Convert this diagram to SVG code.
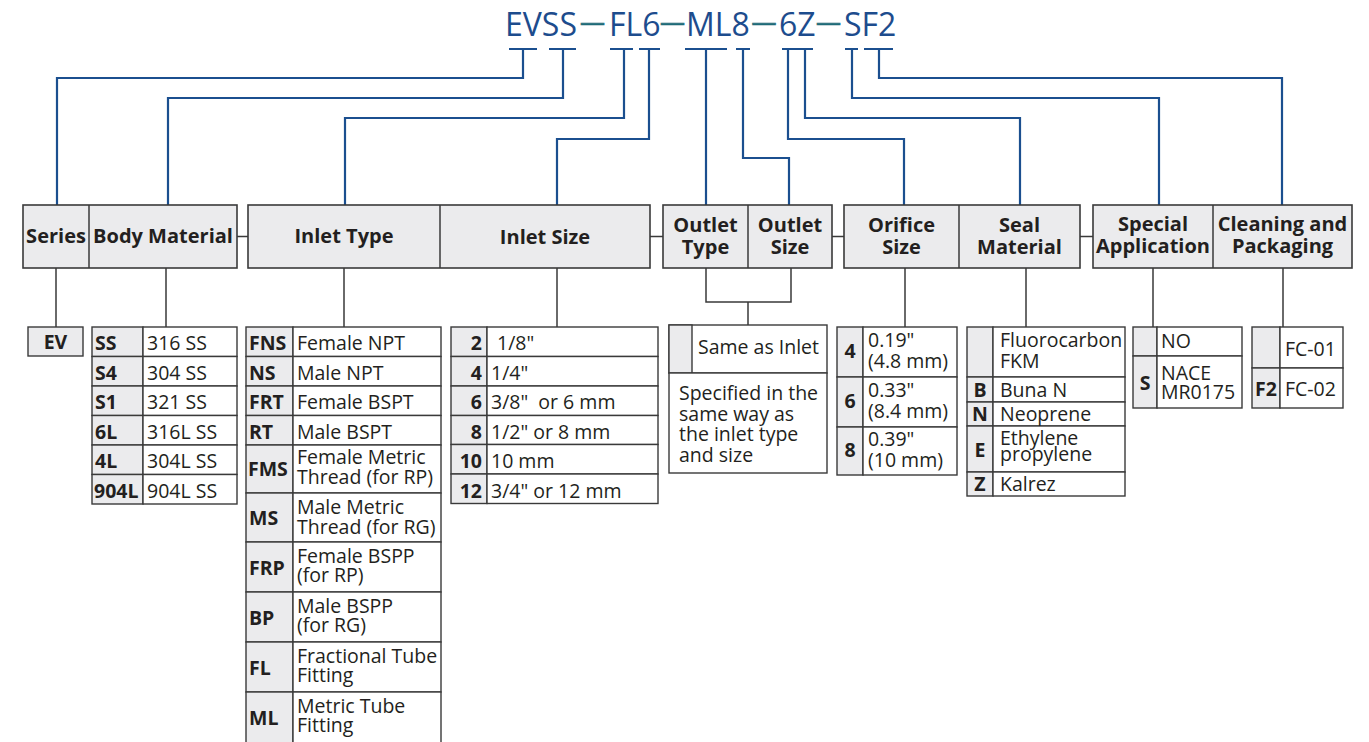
<svg xmlns="http://www.w3.org/2000/svg" width="1369" height="742" viewBox="0 0 1369 742">
<style>
.bg{fill:#fff}
.hb{fill:#ebebed;stroke:#3a3a3a;stroke-width:1.6}
.w{fill:#fff;stroke:#3a3a3a;stroke-width:1.4}
.g{fill:#ebebed;stroke:#3a3a3a;stroke-width:1.4}
.bl{fill:none;stroke:#1b4f8f;stroke-width:2.2}
.gl{fill:none;stroke:#3a3a3a;stroke-width:1.5}
text{font-family:'Open Sans','Noto Sans','DejaVu Sans',sans-serif;fill:#231f20}
.ht{font-size:20px;font-weight:700;text-anchor:middle}
.t{font-size:19.5px}
.c{font-size:19.5px;font-weight:700}
.cm{font-size:19.5px;font-weight:700;text-anchor:middle}
.ce{font-size:19.5px;font-weight:700;text-anchor:end}
.title{font-size:32px;fill:#1d4c8d}
.dash{font-size:25px;fill:#1e6b78;stroke:#1e6b78;stroke-width:0.7}
</style>
<rect class="bg" x="0" y="0" width="1369" height="742"/>

<g id="title">
<text class="title"><tspan x="505" y="36">EVSS</tspan><tspan class="dash" x="580" y="31">—</tspan><tspan x="609" y="36">FL6</tspan><tspan class="dash" x="660" y="31">—</tspan><tspan x="686" y="36">ML8</tspan><tspan class="dash" x="751.5" y="31">—</tspan><tspan x="779" y="36">6Z</tspan><tspan class="dash" x="816" y="31">—</tspan><tspan x="844" y="36">SF2</tspan></text>
</g>

<g id="connectors">
<path class="bl" d="M509 49H537M549 49H576M610 49H633M639 49H660M685 49H727M736 49H750M782 49H813M845 49H858M864 49H893"/>
<path class="bl" d="M523 49V78H57V205"/>
<path class="bl" d="M563 49V98H168V205"/>
<path class="bl" d="M624 49V118H345V205"/>
<path class="bl" d="M649 49V139H557V205"/>
<path class="bl" d="M706 49V205"/>
<path class="bl" d="M743 49V158H789V205"/>
<path class="bl" d="M788 49V139H904V205"/>
<path class="bl" d="M805 49V118H1020V205"/>
<path class="bl" d="M852 49V98H1159V205"/>
<path class="bl" d="M879 49V78H1282V205"/>
<path class="gl" d="M237 236.5H248M650 236.5H663M832 236.5H844M1080 236.5H1093"/>
<path class="gl" d="M56 268V327M166 268V327M344 268V327M557 268V327M706 268V302H791V268M748 302V325M905 268V327M1026 268V327M1153 268V327M1283 268V327"/>
</g>

<g id="hdr-series-body">
<rect class="hb" x="23" y="205" width="214" height="63"/>
<path class="gl" d="M89 205V268"/>
<text class="ht" x="56" y="243">Series</text>
<text class="ht" x="163" y="243">Body Material</text>
</g>
<g id="hdr-inlet">
<rect class="hb" x="248" y="205" width="402" height="63"/>
<path class="gl" d="M440 205V268"/>
<text class="ht" x="344" y="243">Inlet Type</text>
<text class="ht" x="545" y="244">Inlet Size</text>
</g>
<g id="hdr-outlet">
<rect class="hb" x="663" y="205" width="169" height="63"/>
<path class="gl" d="M748 205V268"/>
<text class="ht"><tspan x="705.5" y="232">Outlet</tspan><tspan x="705.5" y="254">Type</tspan></text>
<text class="ht"><tspan x="790" y="232">Outlet</tspan><tspan x="790" y="254">Size</tspan></text>
</g>
<g id="hdr-orifice-seal">
<rect class="hb" x="844" y="205" width="236" height="63"/>
<path class="gl" d="M959 205V268"/>
<text class="ht"><tspan x="901.5" y="232">Orifice</tspan><tspan x="901.5" y="254">Size</tspan></text>
<text class="ht"><tspan x="1019.5" y="232">Seal</tspan><tspan x="1019.5" y="254">Material</tspan></text>
</g>
<g id="hdr-special-cleaning">
<rect class="hb" x="1093" y="205" width="259" height="63"/>
<path class="gl" d="M1213 205V268"/>
<text class="ht"><tspan x="1153" y="231">Special</tspan><tspan x="1153" y="253">Application</tspan></text>
<text class="ht"><tspan x="1282.5" y="231">Cleaning and</tspan><tspan x="1282.5" y="253">Packaging</tspan></text>
</g>

<g id="tbl-series">
<rect class="g" x="28" y="327" width="55" height="29"/>
<text class="cm" x="55.5" y="349">EV</text>
</g>

<g id="tbl-body">
<rect class="g" x="92" y="327" width="51" height="29.5"/><rect class="w" x="143" y="327" width="94" height="29.5"/>
<rect class="g" x="92" y="356.5" width="51" height="29.5"/><rect class="w" x="143" y="356.5" width="94" height="29.5"/>
<rect class="g" x="92" y="386" width="51" height="29.5"/><rect class="w" x="143" y="386" width="94" height="29.5"/>
<rect class="g" x="92" y="415.5" width="51" height="29.5"/><rect class="w" x="143" y="415.5" width="94" height="29.5"/>
<rect class="g" x="92" y="445" width="51" height="29.5"/><rect class="w" x="143" y="445" width="94" height="29.5"/>
<rect class="g" x="92" y="474.5" width="51" height="29.5"/><rect class="w" x="143" y="474.5" width="94" height="29.5"/>
<text class="c" x="95" y="350">SS</text><text class="t" x="147" y="350">316 SS</text>
<text class="c" x="95" y="379.5">S4</text><text class="t" x="147" y="379.5">304 SS</text>
<text class="c" x="95" y="409">S1</text><text class="t" x="147" y="409">321 SS</text>
<text class="c" x="95" y="438.5">6L</text><text class="t" x="147" y="438.5">316L SS</text>
<text class="c" x="95" y="468">4L</text><text class="t" x="147" y="468">304L SS</text>
<text class="c" x="94" y="497.5">904L</text><text class="t" x="147" y="497.5">904L SS</text>
</g>

<g id="tbl-inlet-type">
<rect class="g" x="246" y="327" width="47" height="29.5"/><rect class="w" x="293" y="327" width="148" height="29.5"/>
<rect class="g" x="246" y="356.5" width="47" height="29.5"/><rect class="w" x="293" y="356.5" width="148" height="29.5"/>
<rect class="g" x="246" y="386" width="47" height="29.5"/><rect class="w" x="293" y="386" width="148" height="29.5"/>
<rect class="g" x="246" y="415.5" width="47" height="29.5"/><rect class="w" x="293" y="415.5" width="148" height="29.5"/>
<rect class="g" x="246" y="445" width="47" height="48"/><rect class="w" x="293" y="445" width="148" height="48"/>
<rect class="g" x="246" y="493" width="47" height="49"/><rect class="w" x="293" y="493" width="148" height="49"/>
<rect class="g" x="246" y="542" width="47" height="50"/><rect class="w" x="293" y="542" width="148" height="50"/>
<rect class="g" x="246" y="592" width="47" height="50"/><rect class="w" x="293" y="592" width="148" height="50"/>
<rect class="g" x="246" y="642" width="47" height="50"/><rect class="w" x="293" y="642" width="148" height="50"/>
<rect class="g" x="246" y="692" width="47" height="60"/><rect class="w" x="293" y="692" width="148" height="60"/>
<text class="c" x="249" y="350">FNS</text><text class="t" x="297" y="350">Female NPT</text>
<text class="c" x="249" y="379.5">NS</text><text class="t" x="297" y="379.5">Male NPT</text>
<text class="c" x="249" y="409">FRT</text><text class="t" x="297" y="409">Female BSPT</text>
<text class="c" x="249" y="438.5">RT</text><text class="t" x="297" y="438.5">Male BSPT</text>
<text class="c" x="248" y="476">FMS</text><text class="t"><tspan x="297" y="464">Female Metric</tspan><tspan x="297" y="484">Thread (for RP)</tspan></text>
<text class="c" x="249" y="525">MS</text><text class="t"><tspan x="297" y="513.5">Male Metric</tspan><tspan x="297" y="533.5">Thread (for RG)</tspan></text>
<text class="c" x="249" y="574.5">FRP</text><text class="t"><tspan x="297" y="562.5">Female BSPP</tspan><tspan x="297" y="582">(for RP)</tspan></text>
<text class="c" x="249" y="624.5">BP</text><text class="t"><tspan x="297" y="612.5">Male BSPP</tspan><tspan x="297" y="632">(for RG)</tspan></text>
<text class="c" x="249" y="674.5">FL</text><text class="t"><tspan x="297" y="662.5">Fractional Tube</tspan><tspan x="297" y="682">Fitting</tspan></text>
<text class="c" x="249" y="724.5">ML</text><text class="t"><tspan x="297" y="712.5">Metric Tube</tspan><tspan x="297" y="732">Fitting</tspan></text>
</g>

<g id="tbl-inlet-size">
<rect class="g" x="451" y="327" width="36" height="29.5"/><rect class="w" x="487" y="327" width="171" height="29.5"/>
<rect class="g" x="451" y="356.5" width="36" height="29.5"/><rect class="w" x="487" y="356.5" width="171" height="29.5"/>
<rect class="g" x="451" y="386" width="36" height="29.5"/><rect class="w" x="487" y="386" width="171" height="29.5"/>
<rect class="g" x="451" y="415.5" width="36" height="29"/><rect class="w" x="487" y="415.5" width="171" height="29"/>
<rect class="g" x="451" y="444.5" width="36" height="29.5"/><rect class="w" x="487" y="444.5" width="171" height="29.5"/>
<rect class="g" x="451" y="474" width="36" height="29.5"/><rect class="w" x="487" y="474" width="171" height="29.5"/>
<text class="ce" x="482" y="350">2</text><text class="t" x="497" y="350">1/8"</text>
<text class="ce" x="482" y="379.5">4</text><text class="t" x="491" y="379.5">1/4"</text>
<text class="ce" x="482" y="409">6</text><text class="t" x="491" y="409" xml:space="preserve">3/8"  or 6 mm</text>
<text class="ce" x="482" y="438.5">8</text><text class="t" x="491" y="438.5">1/2" or 8 mm</text>
<text class="ce" x="482" y="468">10</text><text class="t" x="491" y="468">10 mm</text>
<text class="ce" x="482" y="497.5">12</text><text class="t" x="491" y="497.5">3/4" or 12 mm</text>
</g>

<g id="tbl-outlet">
<rect class="w" x="669" y="325" width="158" height="48"/>
<rect class="g" x="669" y="325" width="23" height="48"/>
<rect class="w" x="669" y="373" width="158" height="100"/>
<text class="t" x="698" y="354">Same as Inlet</text>
<text class="t"><tspan x="679" y="400">Specified in the</tspan><tspan x="679" y="420.5">same way as</tspan><tspan x="679" y="441">the inlet type</tspan><tspan x="679" y="461.5">and size</tspan></text>
</g>

<g id="tbl-orifice">
<rect class="g" x="837" y="327" width="26" height="50"/><rect class="w" x="863" y="327" width="94" height="50"/>
<rect class="g" x="837" y="377" width="26" height="50"/><rect class="w" x="863" y="377" width="94" height="50"/>
<rect class="g" x="837" y="427" width="26" height="48"/><rect class="w" x="863" y="427" width="94" height="48"/>
<text class="cm" x="850" y="358">4</text><text class="t"><tspan x="868" y="346.5">0.19"</tspan><tspan x="868" y="368">(4.8 mm)</tspan></text>
<text class="cm" x="850" y="408">6</text><text class="t"><tspan x="868" y="396.5">0.33"</tspan><tspan x="868" y="418">(8.4 mm)</tspan></text>
<text class="cm" x="850" y="457">8</text><text class="t"><tspan x="868" y="446">0.39"</tspan><tspan x="868" y="467">(10 mm)</tspan></text>
</g>

<g id="tbl-seal">
<rect class="g" x="967" y="327" width="26" height="50"/><rect class="w" x="993" y="327" width="132" height="50"/>
<rect class="g" x="967" y="377" width="26" height="25"/><rect class="w" x="993" y="377" width="132" height="25"/>
<rect class="g" x="967" y="402" width="26" height="24"/><rect class="w" x="993" y="402" width="132" height="24"/>
<rect class="g" x="967" y="426" width="26" height="46"/><rect class="w" x="993" y="426" width="132" height="46"/>
<rect class="g" x="967" y="472" width="26" height="24"/><rect class="w" x="993" y="472" width="132" height="24"/>
<text class="t"><tspan x="1000" y="346.5">Fluorocarbon</tspan><tspan x="1000" y="367.5">FKM</tspan></text>
<text class="cm" x="980" y="396.5">B</text><text class="t" x="1000" y="396.5">Buna N</text>
<text class="cm" x="980" y="421">N</text><text class="t" x="1000" y="421">Neoprene</text>
<text class="cm" x="980" y="456.5">E</text><text class="t"><tspan x="1000" y="445">Ethylene</tspan><tspan x="1000" y="461">propylene</tspan></text>
<text class="cm" x="980" y="490.5">Z</text><text class="t" x="1000" y="490.5">Kalrez</text>
</g>

<g id="tbl-special">
<rect class="g" x="1133" y="327" width="24" height="29"/><rect class="w" x="1157" y="327" width="85" height="29"/>
<rect class="g" x="1133" y="356" width="24" height="52"/><rect class="w" x="1157" y="356" width="85" height="52"/>
<text class="t" x="1161" y="348">NO</text>
<text class="cm" x="1145" y="390">S</text><text class="t"><tspan x="1161" y="380">NACE</tspan><tspan x="1161" y="399">MR0175</tspan></text>
</g>

<g id="tbl-cleaning">
<rect class="g" x="1252" y="327" width="28" height="41"/><rect class="w" x="1280" y="327" width="63" height="41"/>
<rect class="g" x="1252" y="368" width="28" height="40"/><rect class="w" x="1280" y="368" width="63" height="40"/>
<text class="t" x="1285" y="355.5">FC-01</text>
<text class="cm" x="1266" y="396">F2</text><text class="t" x="1285" y="396">FC-02</text>
</g>
</svg>
